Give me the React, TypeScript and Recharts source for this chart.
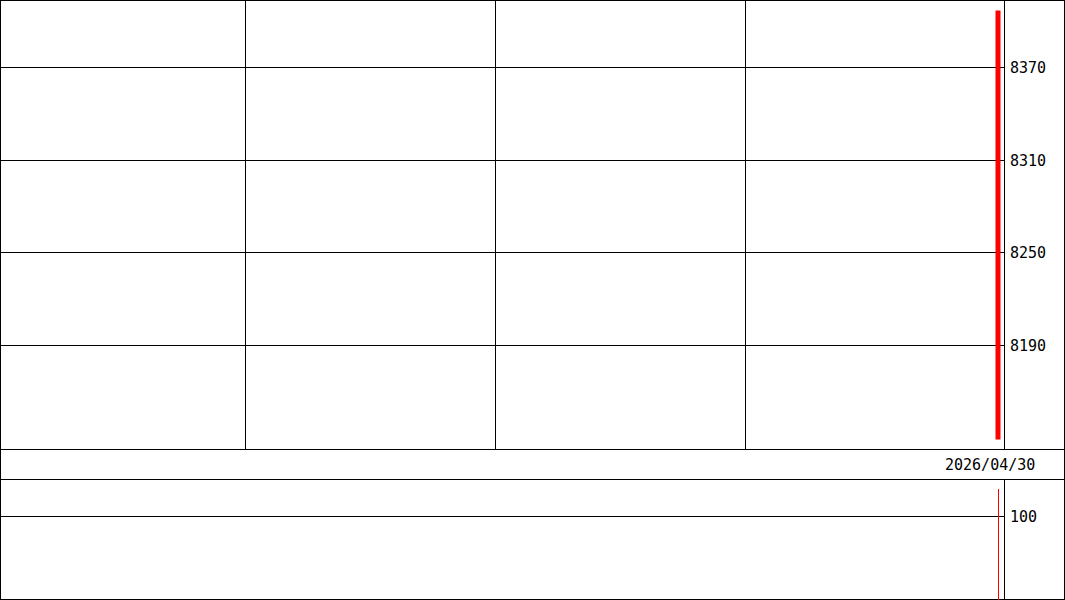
import { ComposedChart, Bar, XAxis, YAxis, CartesianGrid } from "recharts";

// one trading day, drawn at the last slot of the window
const dates = ["2026/04/30"];
const slots = [199.5];
const highs = [8407];
const lows = [8129];
const volumes = [133];

const priceTicks = [8190, 8250, 8310, 8370];
const volumeTicks = [100];
const gridSlots = [49, 99, 149];

const data = dates.map((d, i) => ({
  date: d,
  slot: slots[i],
  range: [lows[i], highs[i]],
  volume: volumes[i],
}));

const W = 1065;
const AXIS_W = 61;
const X_DOMAIN: [number, number] = [0, 200.8];
const font = '"DejaVu Sans Mono", monospace';
const tickStyle = { fill: "#000", fontSize: 15, fontFamily: font };

export default function App() {
  return (
    <div
      style={{
        position: "absolute",
        left: 0,
        top: 0,
        width: W,
        height: 600,
        background: "#fff",
        overflow: "hidden",
      }}
    >
      <style>{`.crisp line { shape-rendering: crispEdges; } .vol path { shape-rendering: crispEdges; }`}</style>
      <div
        style={{
          position: "absolute",
          inset: 0,
          border: "1px solid #000",
          boxSizing: "border-box",
        }}
      />
      <div style={{ position: "absolute", left: 0, top: 449, width: W, height: 1, background: "#000" }} />
      <div style={{ position: "absolute", left: 0, top: 479, width: W, height: 1, background: "#000" }} />

      {/* price panel */}
      <div className="crisp" style={{ position: "absolute", left: 0, top: 0 }}>
        <ComposedChart width={W} height={449} data={data} margin={{ top: 0, right: 0, bottom: 0, left: 0 }}>
          <CartesianGrid stroke="#000" strokeWidth={1} />
          <XAxis dataKey="slot" type="number" domain={X_DOMAIN} ticks={gridSlots} hide />
          <YAxis
            orientation="right"
            width={AXIS_W}
            domain={[8122.85, 8413.85]}
            ticks={priceTicks}
            tickLine={false}
            tickSize={0}
            tickMargin={6}
            axisLine={{ stroke: "#000" }}
            tick={tickStyle}
            allowDataOverflow
          />
          <Bar dataKey="range" barSize={5} fill="#ff0000" isAnimationActive={false} />
        </ComposedChart>
      </div>

      {/* date band */}
      <div
        style={{
          position: "absolute",
          left: 945,
          top: 455,
          height: 20,
          lineHeight: "20px",
          fontFamily: font,
          fontSize: 15,
          color: "#000",
          whiteSpace: "nowrap",
        }}
      >
        {dates[dates.length - 1]}
      </div>

      {/* volume panel */}
      <div className="crisp vol" style={{ position: "absolute", left: 0, top: 479 }}>
        <ComposedChart width={W} height={121} data={data} margin={{ top: 0, right: 0, bottom: 0, left: 0 }}>
          <CartesianGrid stroke="#000" strokeWidth={1} vertical={false} />
          <XAxis dataKey="slot" type="number" domain={X_DOMAIN} hide />
          <YAxis
            orientation="right"
            width={AXIS_W}
            domain={[0, 144.9]}
            ticks={volumeTicks}
            tickLine={false}
            tickSize={0}
            tickMargin={6}
            axisLine={{ stroke: "#000" }}
            tick={tickStyle}
            allowDataOverflow
          />
          <Bar dataKey="volume" barSize={1} fill="#ff0000" isAnimationActive={false} />
        </ComposedChart>
      </div>
    </div>
  );
}
